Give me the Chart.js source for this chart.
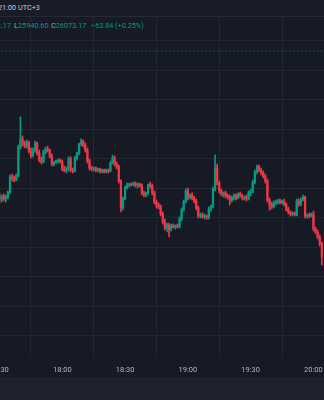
<!DOCTYPE html>
<html>
<head>
<meta charset="utf-8">
<script src="https://cdn.jsdelivr.net/npm/chart.js@4.4.1/dist/chart.umd.min.js"></script>
<style>
  html, body { margin: 0; padding: 0; }
  body {
    width: 324px; height: 400px; overflow: hidden; position: relative;
    background: #161a25; font-family: Roboto, "Noto Sans", sans-serif;
  }
  .topbar {
    position: absolute; left: 0; top: 0; width: 324px; height: 16px;
    background: #181c27; border-bottom: 1px solid #262a35;
  }
  .topbar span {
    position: absolute; top: 4px; font-size: 7.3px; line-height: 8px; color: #c7cad2; white-space: nowrap;
  }
  .legend span {
    position: absolute; top: 22px; font-size: 7.3px; line-height: 8px; white-space: nowrap; color: #089981;
  }
  .legend .k { color: #a9acb5; }
  #chartWrap { position: absolute; left: 0; top: 17px; width: 324px; height: 361px; }
  .footer {
    position: absolute; left: 0; top: 378px; width: 324px; height: 22px;
    background: #1e222d; border-top: 1px solid #262a35;
  }
</style>
</head>
<body>

<div class="topbar"><span style="left:-2px">21:00 UTC+3</span></div>
<div class="legend">
  <span style="right:313px"><span class="k" style="position:static">H</span>26082.17</span>
  <span style="left:14px"><span class="k" style="position:static">L</span>25940.60</span>
  <span style="left:51px"><span class="k" style="position:static">C</span>26073.17</span>
  <span style="left:91px">+63.84</span>
  <span style="left:115px">(+0.25%)</span>
</div>

<div id="chartWrap"><canvas id="candles" width="324" height="361"></canvas></div>
<div class="footer"></div>

<script>
/* ── DADOS ── */
const startMinute = 17 * 60 + 30;
const tickLabels = ['17:30', '18:00', '18:30', '19:00', '19:30', '20:00'];
const tickMinutes = [0, 30, 60, 90, 120, 150];
const lastClose = 26073.17;

const opens = [
  25974.2, 25972.9, 25974.9, 25972.9, 25974.2, 25977.6, 25987.8, 25986.4, 25985.8, 25988.5,
  26008.1, 26013.6, 26010.2, 26008.8, 26011.5, 26005.4, 26002.7, 26006.1, 26010.8, 26004.1,
  25999.3, 25998.0, 26004.7, 26006.8, 26006.1, 26002.0, 25996.6, 25998.0, 25998.6, 25999.3,
  25998.0, 25993.2, 25992.5, 25993.9, 26000.0, 25992.5, 25991.9, 26000.7, 26004.1, 26010.2,
  26012.2, 26009.5, 26006.1, 25998.6, 25993.9, 25993.2, 25993.9, 25992.5, 25993.2, 25991.9,
  25992.5, 25991.2, 25992.5, 25991.9, 25997.3, 26000.7, 25996.6, 25994.6, 25985.1, 25966.8,
  25972.9, 25980.3, 25982.4, 25983.1, 25982.4, 25983.7, 25982.4, 25983.1, 25981.7, 25977.0,
  25975.6, 25977.0, 25982.4, 25981.7, 25977.0, 25970.8, 25968.8, 25967.5, 25962.7, 25957.3,
  25953.2, 25955.3, 25952.5, 25954.6, 25953.9, 25954.6, 25953.9, 25959.3, 25965.4, 25970.8,
  25978.3, 25974.2, 25975.6, 25973.6, 25971.5, 25966.8, 25961.4, 25962.0, 25960.7, 25961.4,
  25960.7, 25966.1, 25967.5, 25979.7, 25993.9, 25983.7, 25978.3, 25976.3, 25977.0, 25974.9,
  25974.2, 25972.2, 25973.6, 25974.9, 25973.6, 25976.3, 25974.9, 25973.6, 25974.2, 25972.9,
  25977.0, 25978.3, 25984.4, 25991.2, 25994.6, 25992.5, 25990.5, 25988.5, 25985.1, 25972.2,
  25969.5, 25967.5, 25970.2, 25970.8, 25971.5, 25970.2, 25971.5, 25969.5, 25966.1, 25964.1,
  25962.7, 25963.4, 25962.0, 25971.5, 25969.5, 25972.2, 25974.2, 25961.4, 25962.0, 25961.4,
  25962.7, 25952.5, 25950.5, 25947.1, 25942.4
];
const highs = [
  25977.0, 25975.6, 25976.3, 25975.6, 25978.3, 25989.2, 25989.8, 25988.5, 25989.8, 26009.5,
  26028.5, 26015.6, 26012.2, 26012.9, 26012.2, 26007.5, 26007.5, 26012.2, 26011.5, 26006.1,
  26001.4, 26006.1, 26008.1, 26008.8, 26006.8, 26003.4, 25998.6, 25999.3, 26000.0, 26000.0,
  25999.3, 25995.3, 25994.6, 26001.4, 26001.4, 25993.9, 26002.0, 26004.7, 26010.8, 26013.6,
  26012.9, 26010.8, 26007.5, 26000.0, 25995.3, 25994.6, 25994.6, 25993.9, 25993.9, 25993.2,
  25993.2, 25993.2, 25993.2, 25998.6, 26002.7, 26002.0, 25998.0, 25995.9, 25985.8, 25974.2,
  25981.7, 25983.7, 25983.7, 25983.7, 25984.4, 25984.4, 25983.7, 25983.7, 25983.1, 25978.3,
  25977.6, 25983.1, 25984.4, 25983.1, 25978.3, 25972.2, 25970.2, 25968.8, 25964.1, 25959.3,
  25956.6, 25956.6, 25955.9, 25955.9, 25955.3, 25955.9, 25960.7, 25966.8, 25972.2, 25979.7,
  25980.3, 25976.3, 25977.0, 25974.9, 25972.9, 25968.1, 25963.4, 25963.4, 25962.7, 25962.0,
  25967.5, 25968.8, 25981.0, 26002.7, 25996.6, 25985.1, 25979.7, 25977.6, 25978.3, 25976.3,
  25975.6, 25974.9, 25976.3, 25976.3, 25977.0, 25977.6, 25976.3, 25974.9, 25975.6, 25978.3,
  25979.7, 25985.8, 25992.5, 25995.9, 25995.9, 25993.9, 25991.9, 25989.8, 25986.4, 25973.6,
  25970.8, 25971.5, 25972.2, 25972.9, 25972.9, 25972.2, 25972.9, 25970.2, 25967.5, 25964.7,
  25964.1, 25964.1, 25972.9, 25972.9, 25973.6, 25975.6, 25974.9, 25962.7, 25963.4, 25963.4,
  25964.7, 25953.9, 25951.9, 25948.5, 25943.7
];
const lows = [
  25970.2, 25970.8, 25971.5, 25970.8, 25972.9, 25976.3, 25985.1, 25984.4, 25985.1, 25987.8,
  26006.8, 26008.8, 26007.5, 26007.5, 26004.1, 26000.7, 26001.4, 26004.7, 26002.7, 25998.0,
  25996.6, 25997.3, 26003.4, 26004.7, 26000.7, 25995.3, 25995.3, 25996.6, 25997.3, 25997.3,
  25991.9, 25991.2, 25990.5, 25991.9, 25991.2, 25990.5, 25991.2, 25999.3, 26002.7, 26008.8,
  26008.1, 26004.7, 25997.3, 25992.5, 25991.9, 25991.9, 25991.2, 25991.2, 25990.5, 25990.5,
  25990.5, 25990.5, 25990.5, 25991.2, 25996.6, 25995.3, 25993.2, 25983.7, 25964.1, 25965.4,
  25972.2, 25979.7, 25981.0, 25981.7, 25981.7, 25981.0, 25980.3, 25981.0, 25975.6, 25974.2,
  25974.2, 25975.6, 25980.3, 25975.6, 25969.5, 25966.8, 25966.1, 25961.4, 25955.9, 25951.9,
  25950.5, 25947.1, 25951.2, 25953.2, 25952.5, 25953.2, 25953.2, 25958.0, 25964.7, 25970.2,
  25972.2, 25972.9, 25972.2, 25970.2, 25965.4, 25960.0, 25960.0, 25960.0, 25959.3, 25959.3,
  25959.3, 25964.7, 25966.8, 25978.3, 25982.4, 25977.0, 25974.9, 25974.2, 25973.6, 25972.9,
  25968.8, 25970.8, 25972.2, 25972.2, 25972.9, 25974.2, 25972.2, 25972.2, 25971.5, 25972.2,
  25974.9, 25977.0, 25983.1, 25989.8, 25991.2, 25989.2, 25987.1, 25983.7, 25970.8, 25965.4,
  25966.1, 25966.8, 25968.8, 25969.5, 25969.5, 25969.5, 25968.1, 25964.7, 25962.7, 25961.4,
  25961.4, 25961.4, 25961.4, 25968.1, 25968.1, 25971.5, 25960.0, 25960.0, 25960.0, 25960.7,
  25951.2, 25949.2, 25945.8, 25941.0, 25928.1
];
const closes = [
  25972.9, 25974.9, 25972.9, 25974.2, 25977.6, 25987.8, 25986.4, 25985.8, 25988.5, 26008.1,
  26013.6, 26010.2, 26008.8, 26011.5, 26005.4, 26002.7, 26006.1, 26010.8, 26004.1, 25999.3,
  25998.0, 26004.7, 26006.8, 26006.1, 26002.0, 25996.6, 25998.0, 25998.6, 25999.3, 25998.0,
  25993.2, 25992.5, 25993.9, 26000.0, 25992.5, 25991.9, 26000.7, 26004.1, 26010.2, 26012.2,
  26009.5, 26006.1, 25998.6, 25993.9, 25993.2, 25993.9, 25992.5, 25993.2, 25991.9, 25992.5,
  25991.2, 25992.5, 25991.9, 25997.3, 26000.7, 25996.6, 25994.6, 25985.1, 25966.8, 25972.9,
  25980.3, 25982.4, 25983.1, 25982.4, 25983.7, 25982.4, 25983.1, 25981.7, 25977.0, 25975.6,
  25977.0, 25982.4, 25981.7, 25977.0, 25970.8, 25968.8, 25967.5, 25962.7, 25957.3, 25953.2,
  25955.3, 25952.5, 25954.6, 25953.9, 25954.6, 25953.9, 25959.3, 25965.4, 25970.8, 25978.3,
  25974.2, 25975.6, 25973.6, 25971.5, 25966.8, 25961.4, 25962.0, 25960.7, 25961.4, 25960.7,
  25966.1, 25967.5, 25979.7, 25993.9, 25983.7, 25978.3, 25976.3, 25977.0, 25974.9, 25974.2,
  25972.2, 25973.6, 25974.9, 25973.6, 25976.3, 25974.9, 25973.6, 25974.2, 25972.9, 25977.0,
  25978.3, 25984.4, 25991.2, 25994.6, 25992.5, 25990.5, 25988.5, 25985.1, 25972.2, 25969.5,
  25967.5, 25970.2, 25970.8, 25971.5, 25970.2, 25971.5, 25969.5, 25966.1, 25964.1, 25962.7,
  25963.4, 25962.0, 25971.5, 25969.5, 25972.2, 25974.2, 25961.4, 25962.0, 25961.4, 25962.7,
  25952.5, 25950.5, 25947.1, 25942.4, 25933.6
];

/* ── CORES ── */
const upColor = '#089981';
const downColor = '#f23645';
const gridColor = 'rgba(42,46,57,0.6)';

const candleColors = closes.map((c, i) => c >= opens[i] ? upColor : downColor);
const bodies = opens.map((o, i) => ({ x: i, y: [o, closes[i]] }));
const wicks = lows.map((l, i) => ({ x: i, y: [l, highs[i]] }));

function fmtMinute(m) {
  const t = startMinute + m;
  return Math.floor(t / 60) + ':' + String(t % 60).padStart(2, '0');
}

/* ── GRÁFICO ── */
const ctx = document.getElementById('candles');

new Chart(ctx, {
  type: 'bar',
  data: {
    datasets: [
      {
        label: 'wick',
        data: wicks,
        backgroundColor: candleColors,
        barThickness: 1,
        grouped: false,
        borderWidth: 0,
        order: 2
      },
      {
        label: 'body',
        data: bodies,
        backgroundColor: candleColors,
        barThickness: 1.6,
        grouped: false,
        borderWidth: 0,
        order: 1
      },
      {
        type: 'line',
        label: 'price',
        data: [{ x: -5, y: lastClose }, { x: 200, y: lastClose }],
        borderColor: 'rgba(8,153,129,0.45)',
        borderWidth: 1,
        borderDash: [2, 2],
        pointRadius: 0,
        order: 3
      }
    ]
  },
  options: {
    responsive: false,
    animation: false,
    devicePixelRatio: 1,
    layout: { padding: 0 },
    plugins: {
      legend: { display: false },
      tooltip: { enabled: false }
    },
    scales: {
      x: {
        type: 'linear',
        min: 0.239,
        max: 155.04,
        offset: false,
        grid: { color: gridColor, drawTicks: false },
        border: { display: false },
        afterBuildTicks: (scale) => {
          scale.ticks = tickMinutes.map(v => ({ value: v }));
        },
        afterFit: (scale) => {
          scale.height = 21;
          scale.paddingLeft = 0;
          scale.paddingRight = 0;
        },
        ticks: {
          autoSkip: false,
          maxRotation: 0,
          padding: 9,
          color: '#b2b5be',
          font: { family: 'Roboto', size: 7.5 },
          callback: (v) => {
            const k = tickMinutes.indexOf(v);
            return k >= 0 ? tickLabels[k] : fmtMinute(v);
          }
        }
      },
      y: {
        min: 25865.75,
        max: 26096.27,
        grid: { color: gridColor, drawTicks: false },
        border: { display: false },
        afterBuildTicks: (scale) => {
          const t = [];
          for (let v = 25880; v <= 26080; v += 20) t.push({ value: v });
          scale.ticks = t;
        },
        afterFit: (scale) => {
          scale.width = 0;
          scale.paddingTop = 0;
          scale.paddingBottom = 0;
        },
        ticks: { display: false }
      }
    }
  }
});
</script>
</body>
</html>
